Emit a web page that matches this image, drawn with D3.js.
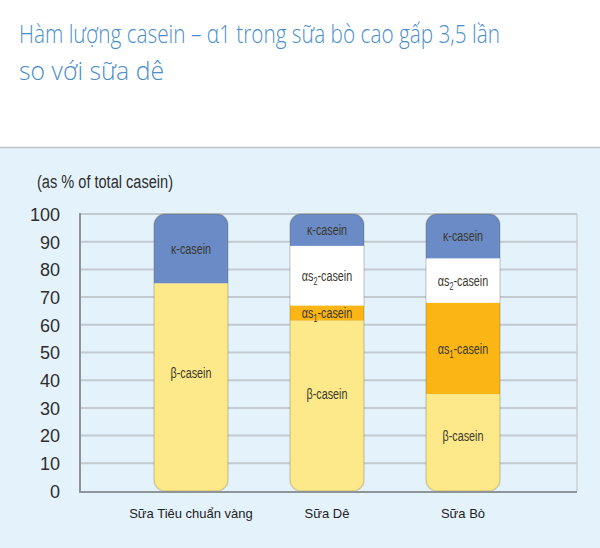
<!DOCTYPE html>
<html><head><meta charset="utf-8">
<script src="https://cdn.jsdelivr.net/npm/d3@7"></script>
<style>body{margin:0;background:#fff}svg{display:block}</style>
</head><body>
<svg id="c" width="600" height="548"></svg>
<script>
const titleLines = ["Hàm lượng casein – α1 trong sữa bò cao gấp 3,5 lần", "so với sữa dê"];
const yAxisTitle = "(as % of total casein)";
const categories = ["Sữa Tiêu chuẩn vàng", "Sữa Dê", "Sữa Bò"];
const segments = ["beta", "as1", "as2", "kappa"];
const betaCasein  = [75, 61.5, 35];
const as1Casein   = [0, 5.5, 33];
const as2Casein   = [0, 21.5, 16];
const kappaCasein = [25, 11.5, 16];
const yTicks = [0,10,20,30,40,50,60,70,80,90,100];

const seriesVals = {beta: betaCasein, as1: as1Casein, as2: as2Casein, kappa: kappaCasein};
const colors = {beta:"#fde98a", as1:"#fbb616", as2:"#ffffff", kappa:"#6b8bc7"};
const narrow = "'Liberation Sans Narrow','Liberation Sans',sans-serif";

const svg = d3.select("#c");
// panel
svg.append("rect").attr("x",0).attr("y",147).attr("width",600).attr("height",401).attr("fill","#e4f2fb");
svg.append("line").attr("x1",0).attr("x2",600).attr("y1",147.5).attr("y2",147.5).attr("stroke","#b9c0c6").attr("stroke-width",1.5);

// title
const tt = svg.append("g").attr("fill","#4a8dcc").style("font-family","'Open Sans','Noto Sans',sans-serif").style("font-size","25px").style("font-weight","300");
tt.append("text").attr("x",19).attr("y",43).attr("textLength",481).attr("lengthAdjust","spacingAndGlyphs").text(titleLines[0]);
tt.append("text").attr("x",19).attr("y",80).attr("textLength",145).attr("lengthAdjust","spacingAndGlyphs").text(titleLines[1]);

const y = d3.scaleLinear().domain([0,100]).range([491,214]);
const x = d3.scalePoint().domain(categories).range([123,531]).padding(0.5);
const bw = 74;
const plotL = 80, plotR = 577;

// gridlines
svg.append("g").selectAll("line").data(yTicks.filter(d=>d>0)).join("line")
  .attr("x1",plotL).attr("x2",plotR).attr("y1",d=>y(d)).attr("y2",d=>y(d))
  .attr("stroke","#c3cad1").attr("stroke-width",2);
svg.append("line").attr("x1",plotR).attr("x2",plotR).attr("y1",y(100)).attr("y2",y(0)).attr("stroke","#c8cfd5").attr("stroke-width",1.5);

// y axis
const yAxis = d3.axisLeft(y).tickValues(yTicks).tickSize(0).tickPadding(20);
const yg = svg.append("g").attr("transform",`translate(${plotL},0)`).call(yAxis);
yg.select(".domain").remove();
yg.selectAll("text").attr("fill","#2e2e2e").style("font-family",narrow).style("font-size","18px").attr("dy","0.35em");
svg.append("line").attr("x1",plotL).attr("x2",plotL).attr("y1",y(100)-1).attr("y2",y(0)+1).attr("stroke","#8e949a").attr("stroke-width",2);

// y title
svg.append("text").attr("x",37).attr("y",188).attr("fill","#2e2e2e").attr("textLength",136).attr("lengthAdjust","spacingAndGlyphs")
  .style("font-family",narrow).style("font-size","18px").text(yAxisTitle);

// bars
const defs = svg.append("defs");
const stackData = d3.stack().keys(segments)(categories.map((c,i)=>{const o={cat:c}; segments.forEach(k=>o[k]=seriesVals[k][i]); return o;}));

categories.forEach((c,i)=>{
  const cx = x(c);
  defs.append("clipPath").attr("id","clip"+i).append("rect")
    .attr("x",cx-bw/2).attr("y",y(100)).attr("width",bw).attr("height",y(0)-y(100)).attr("rx",11);
  const g = svg.append("g").attr("clip-path",`url(#clip${i})`);
  stackData.forEach(s=>{
    const d = s[i];
    if (d[1]-d[0] <= 0) return;
    g.append("rect").attr("x",cx-bw/2).attr("width",bw).attr("y",y(d[1])).attr("height",y(d[0])-y(d[1])).attr("fill",colors[s.key]);
  });
  svg.append("rect").attr("x",cx-bw/2).attr("y",y(100)).attr("width",bw).attr("height",y(0)-y(100)).attr("rx",11)
    .attr("fill","none").attr("stroke","rgba(90,80,40,0.22)").attr("stroke-width",1.5);
});

// x axis bottom line
svg.append("line").attr("x1",plotL-1).attr("x2",plotR).attr("y1",y(0)+1).attr("y2",y(0)+1).attr("stroke","#8e949a").attr("stroke-width",2);

// segment labels
const lab = svg.append("g").attr("fill","#3a382c").attr("text-anchor","middle")
  .style("font-family",narrow).style("font-size","15px");
const labelInfo = {kappa:["κ-casein",null], as2:["αs","2"], as1:["αs","1"], beta:["β-casein",null]};
stackData.forEach(s=>{
  categories.forEach((c,i)=>{
    const d = s[i];
    if (d[1]-d[0] <= 0) return;
    const frac = s.key==="beta" ? 0.57 : 0.5;
    const yy = y(d[0] + (d[1]-d[0])*frac);
    const t = lab.append("text").attr("x",x(c)).attr("y",yy).attr("dy","0.35em")
      .attr("transform",`translate(${x(c)},0) scale(0.72,1) translate(${-x(c)},0)`);
    const info = labelInfo[s.key];
    if (info[1]) {
      t.append("tspan").text("αs");
      t.append("tspan").attr("font-size","10px").attr("dy","4").text(info[1]);
      t.append("tspan").attr("dy","-4").text("-casein");
    } else t.text(info[0]);
  });
});

// category labels
svg.append("g").selectAll("text").data(categories).join("text")
  .attr("x",d=>x(d)).attr("y",518).attr("text-anchor","middle").attr("fill","#222")
  .style("font-family","'Liberation Sans','Arial',sans-serif").style("font-size","13px").text(d=>d);
</script>
</body></html>
